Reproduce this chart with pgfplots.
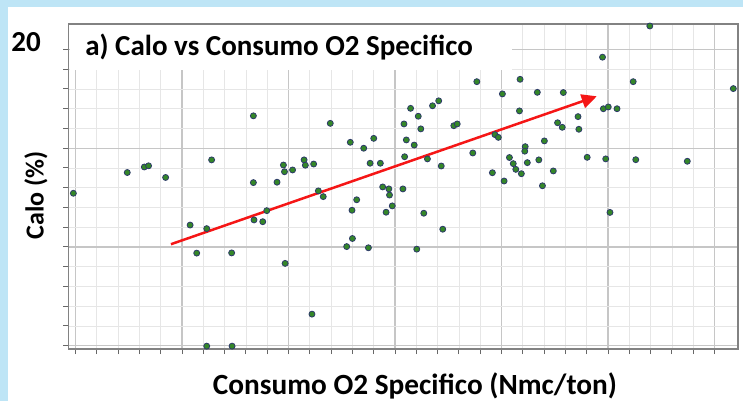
\documentclass[border=0pt]{standalone}
\usepackage{fontspec}
\setmainfont{Carlito}
\usepackage{pgfplots}
\pgfplotsset{compat=1.18}
\usetikzlibrary{arrows.meta}
\definecolor{bgblue}{RGB}{190,229,246}
\definecolor{ptgreen}{RGB}{52,135,40}
\definecolor{ptedge}{RGB}{45,58,105}
\definecolor{arrowred}{RGB}{245,22,22}
\definecolor{majgrid}{RGB}{198,198,198}
\definecolor{mingrid}{RGB}{230,230,230}
\definecolor{axgray}{RGB}{130,130,130}

\pgfplotstableread{
x y
-0.10 12.72
2.43 13.77
3.23 14.05
3.43 14.11
4.23 13.52
6.39 14.41
8.35 16.64
8.35 13.26
9.46 13.28
9.76 14.15
9.81 13.81
10.19 13.90
10.73 14.41
10.79 14.14
11.18 14.20
11.40 12.84
11.63 12.55
11.96 16.26
12.90 15.30
13.53 15.00
14.00 15.50
13.83 14.24
14.31 14.24
13.20 12.39
15.42 16.23
15.73 17.02
15.45 14.57
14.42 13.04
14.71 12.94
14.74 12.63
15.37 12.94
16.76 17.15
17.05 17.40
16.09 16.62
16.21 15.98
17.76 16.14
17.92 16.23
15.53 15.42
15.90 15.16
18.84 18.37
20.87 18.49
20.04 17.75
21.68 17.83
22.90 17.82
20.84 16.89
19.69 15.69
19.85 15.55
18.65 14.76
21.11 15.08
21.09 14.85
22.01 15.37
16.52 14.46
17.17 14.10
20.37 14.53
20.55 14.22
20.67 13.93
20.93 13.71
21.21 14.27
21.75 14.41
19.57 13.76
20.12 13.34
22.43 13.85
21.92 13.10
22.63 16.29
22.85 16.06
23.59 16.60
23.63 15.96
24.02 14.54
24.89 14.46
26.30 14.42
28.72 14.34
24.74 19.61
26.18 18.37
26.96 21.19
30.88 18.02
24.78 17.00
25.01 17.09
25.42 17.00
5.38 11.11
6.16 10.93
5.69 9.69
7.33 9.70
6.16 4.98
7.35 4.98
8.38 11.37
8.79 11.28
8.98 11.84
9.84 9.17
11.10 6.60
12.73 10.02
13.00 10.43
12.98 11.86
13.75 9.96
14.87 12.08
14.58 11.76
16.35 11.71
17.24 10.90
16.02 9.89
25.09 11.75
}\calodata

\begin{document}
\begin{tikzpicture}
\fill[bgblue] (-68.5bp,-52bp) rectangle (674.5bp,349bp);
\fill[white] (-60.5bp,-52bp) rectangle (674.5bp,342bp);
\begin{axis}[
  at={(0,0)}, anchor=south west,
  scale only axis, width=669.5bp, height=325bp,
  xmin=-0.329, xmax=31.10, ymin=4.835, ymax=21.29,
  clip=false,
  xtick={0,5,...,30}, minor x tick num=4,
  ytick={5,10,15,20}, minor y tick num=4,
  xticklabels={}, yticklabels={,,,20},
  grid=both,
  major grid style={majgrid, line width=1.4bp},
  minor grid style={mingrid, line width=0.8bp},
  axis line style={axgray, line width=1.3bp},
  tick style={axgray!80!black, line width=1bp},
  tick align=outside, major tick length=5bp, minor tick length=5bp,
  xtick pos=left, ytick pos=left,
  yticklabel style={font=\fontsize{29bp}{32bp}\selectfont\bfseries, anchor=east, inner sep=0pt, xshift=-22.5bp, yshift=7.5bp},
  xlabel={Consumo O2 Specifico (Nmc/ton)},
  xlabel style={at={(axis description cs:0.5175,-0.1385)}, anchor=base, inner sep=0pt, font=\fontsize{29.3bp}{32bp}\selectfont\bfseries},
  ylabel={Calo (\%)},
  ylabel style={at={(axis description cs:-0.0373,0.472)}, anchor=base, inner sep=0pt, rotate=0, font=\fontsize{26bp}{30bp}\selectfont\bfseries},
]
\fill[white] (axis cs:-0.282,18.96) rectangle (axis cs:20.49,21.25);
\node[anchor=base west, inner sep=0pt, font=\fontsize{29bp}{32bp}\selectfont\bfseries] at (axis cs:0.45,19.72) {a) Calo vs Consumo O2 Specifico};
\addplot[only marks, mark=*, mark size=3bp, mark options={fill=ptgreen, draw=ptedge, line width=0.8bp}] table[x=x,y=y] {\calodata};
\addplot[arrowred, line width=2.5bp, -{Triangle[length=15bp,width=14bp]}] coordinates {(4.48,10.14) (24.47,17.63)};
\end{axis}
\pgfresetboundingbox
\useasboundingbox (-68.5bp,-52bp) rectangle (674.5bp,349bp);
\end{tikzpicture}
\end{document}
